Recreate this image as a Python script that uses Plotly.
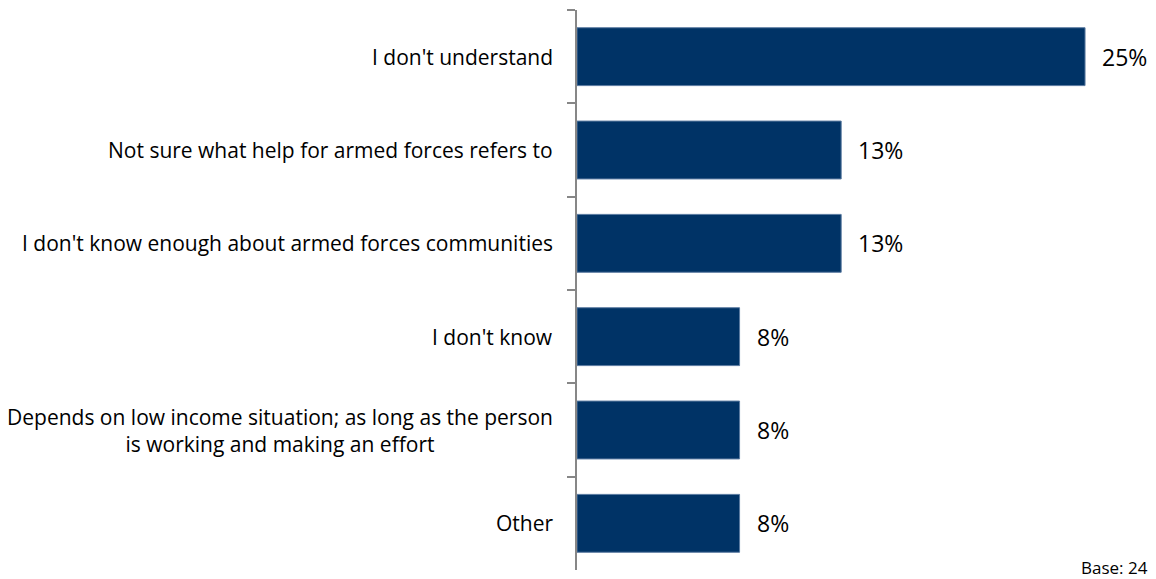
import plotly.graph_objects as go

# Survey responses (share of respondents, %)
categories = [
    "I don't understand",
    "Not sure what help for armed forces refers to",
    "I don't know enough about armed forces communities",
    "I don't know",
    "Depends on low income situation; as long as the person<br>is working and making an effort",
    "Other",
]
values = [25, 13, 13, 8, 8, 8]
value_labels = ["25%", "13%", "13%", "8%", "8%", "8%"]
base_note = "Base: 24"

FONT = "Open Sans"
BAR_COLOR = "#003366"

fig = go.Figure(
    go.Bar(
        x=values,
        y=categories,
        orientation="h",
        marker=dict(color=BAR_COLOR, line=dict(color="#5a7aa0", width=1)),
        hoverinfo="skip",
    )
)

annotations = []
# Category labels, right-aligned against the axis, multi-line centred
for cat in categories:
    annotations.append(dict(
        x=0, y=cat, xref="x", yref="y", text=cat, showarrow=False,
        xanchor="right", yanchor="middle", align="center", xshift=-22,
        font=dict(family=FONT, size=21, color="#000000"),
    ))
# Value labels beside each bar
for cat, v, lab in zip(categories, values, value_labels):
    annotations.append(dict(
        x=v, y=cat, xref="x", yref="y", text=lab, showarrow=False,
        xanchor="left", yanchor="middle", xshift=15,
        font=dict(family=FONT, size=23, color="#000000"),
    ))
annotations.append(dict(
    x=1, y=0, xref="paper", yref="paper", text=base_note, showarrow=False,
    xanchor="right", yanchor="middle", yshift=3, xshift=4,
    font=dict(family=FONT, size=17, color="#000000"),
))

fig.update_layout(
    width=1156, height=579,
    margin=dict(l=577, r=10, t=10, b=9),
    paper_bgcolor="white", plot_bgcolor="white",
    bargap=0.38,
    showlegend=False,
    annotations=annotations,
    xaxis=dict(range=[0, 28], visible=False),
    yaxis=dict(
        type="category", autorange="reversed",
        showticklabels=False, showgrid=False, zeroline=False,
        showline=True, linecolor="#878787", linewidth=2,
        ticks="outside", tickson="boundaries", ticklen=8,
        tickcolor="#878787", tickwidth=2,
    ),
)

fig.write_html("out.html")
